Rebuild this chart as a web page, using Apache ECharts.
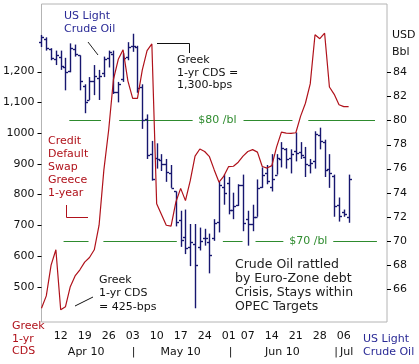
<!DOCTYPE html>
<html><head><meta charset="utf-8">
<script src="https://cdn.jsdelivr.net/npm/echarts@6/dist/echarts.min.js"></script>
<style>html,body{margin:0;padding:0;background:#fff}#c{width:419px;height:364px}</style>
</head><body><div id="c"></div>
<script>
// ---- data (trading days, Apr 6 – Jul 7, 2010) ----
const dates = [
 '2010-04-06','2010-04-07','2010-04-08','2010-04-09','2010-04-12','2010-04-13','2010-04-14','2010-04-15','2010-04-16',
 '2010-04-19','2010-04-20','2010-04-21','2010-04-22','2010-04-23','2010-04-26','2010-04-27','2010-04-28','2010-04-29','2010-04-30',
 '2010-05-03','2010-05-04','2010-05-05','2010-05-06','2010-05-07','2010-05-10','2010-05-11','2010-05-12','2010-05-13','2010-05-14',
 '2010-05-17','2010-05-18','2010-05-19','2010-05-20','2010-05-21','2010-05-24','2010-05-25','2010-05-26','2010-05-27','2010-05-28',
 '2010-06-01','2010-06-02','2010-06-03','2010-06-04','2010-06-07','2010-06-08','2010-06-09','2010-06-10','2010-06-11',
 '2010-06-14','2010-06-15','2010-06-16','2010-06-17','2010-06-18','2010-06-21','2010-06-22','2010-06-23','2010-06-24','2010-06-25',
 '2010-06-28','2010-06-29','2010-06-30','2010-07-01','2010-07-02','2010-07-06','2010-07-07'
];
const crudeOpen  = [86.5,86.8,85.9,85.1,85.3,84.4,84.1,85.9,85.4,82.9,81.7,83.3,83.5,83.9,85.2,85.5,82.4,83.4,85.3,86.2,86.1,82.8,80.1,77.2,76.9,76.7,76.4,75.6,74.1,71.7,70.3,69.5,69.7,69.5,70.2,69.9,70.2,71.6,74.5,74.8,72.6,73.0,74.6,71.8,71.4,72.0,74.5,75.6,74.5,75.5,76.8,77.6,76.9,77.5,77.4,77.0,76.3,76.6,78.8,78.2,76.0,75.4,73.0,72.4,72.0];
const crudeHigh  = [87.1,86.9,86.0,85.8,85.8,85.2,86.4,86.3,85.4,83.0,83.6,84.6,84.2,85.3,85.8,85.8,83.2,85.6,86.5,87.2,86.2,83.0,80.5,78.3,78.1,77.2,76.8,76.3,74.1,72.5,72.6,71.4,71.4,71.1,71.0,70.6,71.8,74.9,75.5,75.3,74.0,74.7,75.5,72.5,73.0,75.1,76.1,76.3,77.2,77.2,78.2,77.7,77.6,79.0,78.2,77.8,76.8,79.1,79.4,78.4,77.2,75.5,73.6,72.6,75.5];
const crudeLow   = [86.1,85.8,85.0,84.6,84.2,82.5,84.0,85.3,82.5,80.6,81.7,82.1,81.7,83.6,84.4,82.2,81.5,83.2,85.0,85.7,82.3,79.3,76.8,75.0,76.0,75.8,74.9,74.4,71.2,69.5,68.9,67.9,64.4,69.2,69.6,67.3,70.0,70.7,73.0,72.2,71.8,72.9,70.8,69.6,70.8,72.0,74.4,74.7,74.1,75.5,76.1,76.0,75.6,76.6,76.8,75.3,75.6,76.0,77.6,75.3,74.4,72.0,71.6,72.0,71.5];
const crudeClose = [86.9,86.0,85.2,85.4,84.5,84.0,86.0,85.5,83.3,81.5,83.3,83.7,83.7,85.1,85.7,82.4,83.0,85.2,86.1,86.2,82.7,80.0,77.1,75.1,76.8,76.4,75.7,74.4,71.6,70.1,69.4,69.9,68.0,70.0,70.2,68.8,71.5,74.6,74.0,72.6,72.9,74.6,71.5,71.4,72.0,74.4,75.5,75.0,75.1,76.9,77.7,76.8,77.2,77.3,77.1,76.4,76.5,78.9,78.3,75.9,75.6,72.9,72.1,72.2,75.1];
const cdsValues  = [430,470,570,620,425,435,500,535,555,580,595,620,700,880,1010,1175,1240,1271,1170,1113,1113,1205,1268,1290,770,735,700,697,775,820,780,845,925,948,940,923,880,840,860,891,892,905,925,940,946,938,891,886,894,955,1003,1000,999,1001,1055,1097,1160,1320,1307,1325,1150,1126,1092,1086,1086];

const weekLabelDates = ['2010-04-12','2010-04-19','2010-04-26','2010-05-03','2010-05-10','2010-05-17','2010-05-24','2010-06-01','2010-06-07','2010-06-14','2010-06-21','2010-06-28','2010-07-06'];
const cdsTicks = [500,600,700,800,900,1000,1100,1200];
const cdsTickLabels = ['500','600','700','800','900','1000','1,100','1,200'];
const crudeTicks = [66,68,70,72,74,76,78,80,82,84];
const refLevels = [80,70];
const refLabels = ['$80 /bl','$70 /bl'];

// ---- layout / positions (in day-index units) ----
const monthMarks = [[9.3,'Apr 10'],[19.2,'|'],[29,'May 10'],[39.4,'|'],[50.2,'Jun 10'],[61.4,'|'],[63.6,'Jul']];
const refSpans = [
  [[5.8,12.4],[16.2,31.5],[42.1,52.3],[55.6,69.5]],
  [[4.6,9.8],[12.9,28.2],[37.8,41.9],[44.6,50.4],[60.8,69.9]]
];
const refLabelPos = [36.65, 55.6];

const FONT = 'DejaVu Sans';
const BLUE = '#17176f', BLUE_TXT = '#2a2a96', RED = '#b0121b', GREEN = '#2e8b2e', BORDER = '#b4b4b4';

const weekIdx = weekLabelDates.map(d => dates.indexOf(d));
const ohlc = dates.map((d,i) => [i, crudeOpen[i], crudeHigh[i], crudeLow[i], crudeClose[i]]);
const refData = [];
refLevels.forEach((lv,k) => refSpans[k].forEach(s => refData.push([s[0], s[1], lv])));
const refLabelData = refLevels.map((lv,k) => [refLabelPos[k], lv, k]);

// axis tick marks drawn through the axis scale
function tickSeries(values, yIdx, side){
  return {type:'custom',xAxisIndex:0,yAxisIndex:yIdx,z:5,clip:false,silent:true,
    data:values.map(v=>[0,v]),
    renderItem:(p,api)=>{
      const cs=p.coordSys; const y=Math.round(api.coord([0,api.value(1)])[1])+0.5;
      const x0 = side==='left' ? cs.x-4 : cs.x+cs.width;
      return {type:'line',shape:{x1:x0,y1:y,x2:x0+4,y2:y},style:{stroke:'#000',lineWidth:1}};
    }};
}

const chart = echarts.init(document.getElementById('c'));
chart.setOption({
  animation:false,
  backgroundColor:'#fff',
  grid:{left:40,right:32,top:4,bottom:42,show:true,borderColor:BORDER,borderWidth:1},
  xAxis:[
    {type:'value',min:0,max:72,position:'bottom',
     axisLine:{show:false},axisTick:{show:false},splitLine:{show:false},
     axisLabel:{customValues:weekIdx,margin:9,color:'#111',fontSize:11,fontFamily:FONT,
       formatter:v=>{const d=dates[Math.round(v)];return d?d.slice(8):'';}}},
    {type:'value',min:0,max:72,position:'bottom',offset:16,
     axisLine:{show:false},axisTick:{show:false},splitLine:{show:false},
     axisLabel:{customValues:monthMarks.map(m=>m[0]),margin:9,color:'#111',fontSize:11,fontFamily:FONT,
       formatter:v=>{const m=monthMarks.find(mm=>Math.abs(mm[0]-v)<1e-6);return m?m[1]:'';}}}
  ],
  yAxis:[
    {type:'value',min:385,max:1420,position:'left',
     axisLine:{show:false},splitLine:{show:false},axisTick:{show:false},
     axisLabel:{customValues:cdsTicks,margin:7,color:'#111',fontSize:11,fontFamily:FONT,
       formatter:v=>cdsTickLabels[cdsTicks.indexOf(v)]}},
    {type:'value',min:63.26,max:89.67,position:'right',
     axisLine:{show:false},splitLine:{show:false},axisTick:{show:false},
     axisLabel:{customValues:crudeTicks,margin:6,color:'#111',fontSize:11,fontFamily:FONT}}
  ],
  series:[
    tickSeries(cdsTicks,0,'left'),
    tickSeries(crudeTicks,1,'right'),
    {type:'custom',name:'ref',xAxisIndex:0,yAxisIndex:1,z:1,data:refData,
     renderItem:(p,api)=>{
       const a=api.coord([api.value(0),api.value(2)]), b=api.coord([api.value(1),api.value(2)]);
       const y=Math.round(a[1])+0.5;
       return {type:'line',shape:{x1:a[0],y1:y,x2:b[0],y2:y},style:{stroke:GREEN,lineWidth:1}};
     }},
    {type:'custom',name:'refLabels',xAxisIndex:0,yAxisIndex:1,z:1,data:refLabelData,
     renderItem:(p,api)=>{
       const a=api.coord([api.value(0),api.value(1)]);
       return {type:'text',x:a[0],y:a[1],style:{text:refLabels[api.value(2)],fill:GREEN,
         font:'11px '+FONT,align:'center',verticalAlign:'middle'}};
     }},
    {type:'custom',name:'US Light Crude Oil',xAxisIndex:0,yAxisIndex:1,z:3,data:ohlc,
     renderItem:(p,api)=>{
       const i=api.value(0);
       const o=api.coord([i,api.value(1)]), h=api.coord([i,api.value(2)]),
             l=api.coord([i,api.value(3)]), c=api.coord([i,api.value(4)]);
       const x=Math.round(h[0])+0.5;
       const st={stroke:BLUE,lineWidth:1.4};
       return {type:'group',children:[
         {type:'line',shape:{x1:x,y1:h[1],x2:x,y2:l[1]},style:st},
         {type:'line',shape:{x1:x-2.5,y1:Math.round(o[1])+0.5,x2:x,y2:Math.round(o[1])+0.5},style:st},
         {type:'line',shape:{x1:x,y1:Math.round(c[1])+0.5,x2:x+2.5,y2:Math.round(c[1])+0.5},style:st}
       ]};
     }},
    {type:'line',name:'Greek 1-yr CDS',xAxisIndex:0,yAxisIndex:0,z:4,
     data:cdsValues.map((v,i)=>[i,v]),symbol:'none',smooth:false,
     lineStyle:{color:RED,width:1.2}}
  ],
  graphic:[
    {type:'text',left:64,top:10,style:{text:'US Light\nCrude Oil',fill:BLUE_TXT,font:'11px '+FONT,lineHeight:13}},
    {type:'polyline',shape:{points:[[88,42],[98,55]]},style:{stroke:'#222',lineWidth:1,fill:null}},
    {type:'polyline',shape:{points:[[157,43.5],[189.5,43.5],[189.5,53]]},style:{stroke:'#111',lineWidth:1,fill:null}},
    {type:'text',left:177,top:54,style:{text:'Greek\n1-yr CDS =\n1,300-bps',fill:'#111',font:'11px '+FONT,lineHeight:12.5}},
    {type:'text',left:48,top:135,style:{text:'Credit\nDefault\nSwap\nGreece\n1-year',fill:RED,font:'11px '+FONT,lineHeight:13}},
    {type:'polyline',shape:{points:[[66.5,205],[66.5,217.5],[88,217.5]]},style:{stroke:RED,lineWidth:1,fill:null}},
    {type:'text',left:99,top:273,style:{text:'Greek\n1-yr CDS\n= 425-bps',fill:'#111',font:'11px '+FONT,lineHeight:13.5}},
    {type:'polyline',shape:{points:[[75,306],[93,297]]},style:{stroke:'#111',lineWidth:1,fill:null}},
    {type:'text',left:235,top:258,style:{text:'Crude Oil rattled\nby Euro-Zone debt\nCrisis, Stays within\nOPEC Targets',fill:'#222',font:'12.5px '+FONT,lineHeight:14}},
    {type:'text',left:392,top:27,style:{text:'USD\nBbl',fill:'#111',font:'11px '+FONT,lineHeight:16.5}},
    {type:'text',left:12,top:320,style:{text:'Greek\n1-yr\nCDS',fill:RED,font:'11px '+FONT,lineHeight:12.5}},
    {type:'text',left:363,top:333,style:{text:'US Light\nCrude Oil',fill:BLUE_TXT,font:'11px '+FONT,lineHeight:13}}
  ]
});
</script></body></html>
